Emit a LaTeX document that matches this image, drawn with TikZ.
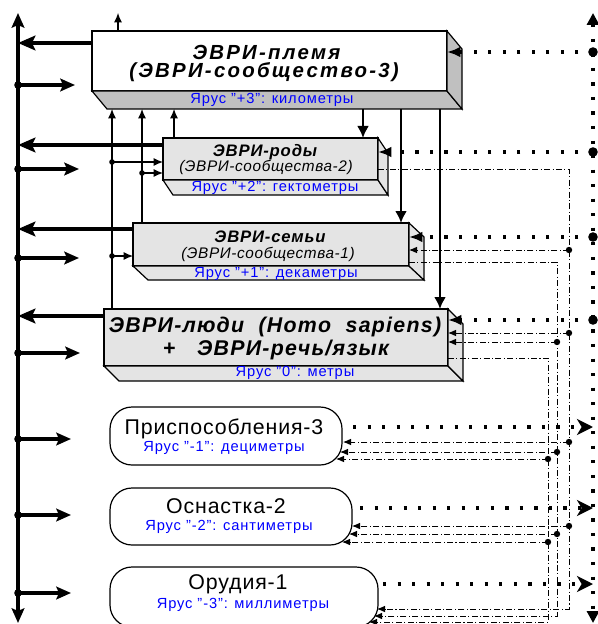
\documentclass[tikz,border=0pt]{standalone}
\usepackage{fontspec}
\setmainfont{Liberation Sans}
\usetikzlibrary{arrows.meta,calc}
\definecolor{sidegray}{RGB}{192,192,192}
\definecolor{facegray}{RGB}{228,228,228}
\newcommand\fTitleA{\fontsize{15.3pt}{17pt}\selectfont\bfseries\itshape\addfontfeature{LetterSpace=11}}
\newcommand\fTitleB{\fontsize{12.5pt}{14pt}\selectfont\bfseries\itshape\addfontfeature{LetterSpace=5}}
\newcommand\fSubT{\fontsize{11.5pt}{13pt}\selectfont\itshape\addfontfeature{LetterSpace=4}}
\newcommand\fTitleC{\fontsize{16pt}{18pt}\selectfont\bfseries\itshape\addfontfeature{LetterSpace=6}}
\newcommand\fMain{\fontsize{16pt}{18pt}\selectfont\addfontfeature{LetterSpace=4}}
\newcommand\fLbl{\fontsize{11pt}{13pt}\selectfont\addfontfeature{LetterSpace=6}}
\begin{document}
\begin{tikzpicture}[x=0.75pt,y=-0.75pt,
  face/.style={draw=black,line width=0.9pt,inner sep=0pt,outer sep=0pt},
  side/.style={draw=black,line width=0.9pt,line join=miter},
  rbox/.style={draw=black,line width=0.9pt,rounded corners=16.5pt,inner sep=0pt,outer sep=0pt,fill=white},
  lbl/.style={inner sep=0pt,text=blue,font=\fLbl},
  ttl/.style={inner sep=0pt},
  bigarrow/.style={line width=2.5pt,-{Stealth[length=13pt,width=11pt,inset=2.5pt]}},
  busout/.style={line width=2.5pt,-{Stealth[length=11pt,width=9.5pt,inset=2pt]}},
  thinarrow/.style={line width=0.8pt,-{Latex[length=7pt,width=6pt]}},
  downarrow/.style={line width=1.7pt,-{Latex[length=9pt,width=9pt]}},
  dotline/.style={line width=2.4pt,dash pattern=on 2.4pt off 8.5pt},
  ddline/.style={line width=0.7pt,dash pattern=on 4.5pt off 1.8pt on 0.8pt off 1.8pt},
  ddarrow/.style={ddline,-{Latex[length=6pt,width=5pt]}},
]
\useasboundingbox (0,0) rectangle (598,624);
\coordinate (LB) at (18,0);
\coordinate (RB) at (593,0);
\coordinate (VA) at (569,0);
\coordinate (VB) at (557,0);
\coordinate (VC) at (548,0);

% ---------- 3D boxes ----------
\node[face,fill=white,minimum width=266.25pt,minimum height=45pt] (tribe) at (269.5,61) {};
\filldraw[side,fill=sidegray] (tribe.south west) -- ++(15,18) -- ++(355,0) -- (tribe.south east) -- cycle;
\filldraw[side,fill=sidegray] (tribe.north east) -- ++(15,18) -- ++(0,60) -- (tribe.south east) -- cycle;
\coordinate (tribeBot) at ($(tribe.south)+(0,18)$);

\node[face,fill=facegray,minimum width=161.25pt,minimum height=31.5pt] (clan) at (270.5,159) {};
\filldraw[side,fill=facegray] (clan.south west) -- ++(10,15) -- ++(215,0) -- (clan.south east) -- cycle;
\filldraw[side,fill=facegray] (clan.north east) -- ++(10,15) -- ++(0,42) -- (clan.south east) -- cycle;

\node[face,fill=facegray,minimum width=207pt,minimum height=32.25pt] (fam) at (271,244.5) {};
\filldraw[side,fill=facegray] (fam.south west) -- ++(15,14) -- ++(276,0) -- (fam.south east) -- cycle;
\filldraw[side,fill=facegray] (fam.north east) -- ++(15,14) -- ++(0,43) -- (fam.south east) -- cycle;

\node[face,fill=facegray,minimum width=258pt,minimum height=42.75pt] (man) at (276,337.5) {};
\filldraw[side,fill=facegray] (man.south west) -- ++(15,15) -- ++(344,0) -- (man.south east) -- cycle;
\filldraw[side,fill=facegray] (man.north east) -- ++(15,15) -- ++(0,57) -- (man.south east) -- cycle;

% texts of 3D boxes
\node[ttl,font=\fTitleA] (tribeT1) at (266.5,52) {ЭВРИ-племя};
\node[ttl,font=\fTitleA] (tribeT2) at (264,72) {(ЭВРИ-сообщество-3)};
\node[lbl] (tribeL) at (272,100) {Ярус "+3": километры};

\node[ttl,font=\fTitleB] (clanT1) at (265,152.5) {ЭВРИ-роды};
\node[ttl,font=\fSubT] (clanT2) at (266,167.5) {(ЭВРИ-сообщества-2)};
\node[lbl] (clanL) at (275,188) {Ярус "+2": гектометры};

\node[ttl,font=\fTitleB] (famT1) at (270,237) {ЭВРИ-семьи};
\node[ttl,font=\fSubT] (famT2) at (268,254) {(ЭВРИ-сообщества-1)};
\node[lbl] (famL) at (276,273.5) {Ярус "+1": декаметры};

\node[ttl,font=\fTitleC] (manT1) at (275,327) {ЭВРИ-люди\ \ (Homo\ \ sapiens)};
\node[ttl,font=\fTitleC] (manT2) at (276,350) {+\ \ \ ЭВРИ-речь/язык};
\node[lbl] (manL) at (295,373) {Ярус "0": метры};

% ---------- rounded boxes ----------
\node[rbox,minimum width=174pt,minimum height=43.5pt] (adapt) at (226,436) {};
\node[ttl,font=\fMain] (adaptT) at (224,428.5) {Приспособления-3};
\node[lbl] (adaptL) at (224,447.5) {Ярус "-1": дециметры};

\node[rbox,minimum width=181.5pt,minimum height=42.75pt] (equip) at (231,516.5) {};
\node[ttl,font=\fMain] (equipT) at (226,506) {Оснастка-2};
\node[lbl] (equipL) at (229,527) {Ярус "-2": сантиметры};

\node[rbox,minimum width=201pt,minimum height=45pt] (tools) at (244,597) {};
\node[ttl,font=\fMain] (toolsT) at (238,584) {Орудия-1};
\node[lbl] (toolsL) at (243,605) {Ярус "-3": миллиметры};

% ---------- left bus ----------
\draw[line width=2.5pt,{Stealth[length=11pt,width=9.5pt,inset=2pt]}-{Stealth[length=11pt,width=9.5pt,inset=2pt]}] (LB |- 0,13) -- (LB |- 0,623);
\draw[bigarrow] (tribe.west |- 0,43) -- (LB |- 0,43);
\draw[bigarrow] (clan.west |- 0,145) -- (LB |- 0,145);
\draw[bigarrow] (fam.west |- 0,229) -- (LB |- 0,229);
\draw[bigarrow] (man.west |- 0,316) -- (LB |- 0,316);
\foreach \yy/\xx [count=\i] in {85/75,169/79,258/79,353/80,439/71,515/71,593/71}{
  \coordinate (out\i) at (\xx,\yy);
  \fill (LB |- out\i) circle (3.8);
  \draw[busout] (LB |- out\i) -- (out\i);
}

% ---------- thin arrows up into the tribe ----------
\coordinate (topA) at (118,13);
\draw[thinarrow] (tribe.north -| topA) -- (topA);
\draw[thinarrow] (man.north -| 112,0) -- (112,0 |- tribeBot);
\draw[thinarrow] (fam.north -| 142,0) -- (142,0 |- tribeBot);
\draw[thinarrow] (clan.north -| 174,0) -- (174,0 |- tribeBot);
\fill (112,162) circle (2.8);
\draw[thinarrow] (112,162) -- (clan.west |- 0,162);
\fill (142,173) circle (2.8);
\draw[thinarrow] (142,173) -- (clan.west |- 0,173);
\fill (112,256) circle (2.8);
\draw[thinarrow] (112,256) -- (fam.west |- 0,256);

% ---------- thick arrows down from the tribe ----------
\draw[downarrow] (363,0 |- tribeBot) -- (clan.north -| 363,0);
\draw[downarrow] (401,0 |- tribeBot) -- (fam.north -| 401,0);
\draw[downarrow] (440,0 |- tribeBot) -- (man.north -| 440,0);

% ---------- dash-dot network ----------
\draw[ddarrow] (clan.east |- 0,169) -- (VA |- 0,169) -- (VA |- 0,609) -- (377,609);
\draw[ddarrow] (fam.east |- 0,262) -- (VB |- 0,262) -- (VB |- 0,616) -- (374,616);
\draw[ddarrow] (man.east |- 0,358) -- (VC |- 0,358) -- (VC |- 0,622) -- (369,622);
\foreach \yy/\tx in {250/409,333/448,442/343,526/352}{
  \fill (VA |- 0,\yy) circle (3.2);
  \draw[ddarrow] (VA |- 0,\yy) -- (\tx,\yy);
}
\foreach \yy/\tx in {342/448,452/340,534/349}{
  \fill (VB |- 0,\yy) circle (3.2);
  \draw[ddarrow] (VB |- 0,\yy) -- (\tx,\yy);
}
\foreach \yy/\tx in {459/336,542/342}{
  \fill (VC |- 0,\yy) circle (3.2);
  \draw[ddarrow] (VC |- 0,\yy) -- (\tx,\yy);
}

% ---------- right dotted bus ----------
\draw[dotline,{Triangle[length=9pt,width=9pt]}-{Triangle[length=9pt,width=9pt]}] (RB |- 0,13) -- (RB |- 0,623);
\foreach \yy/\nd in {52/tribe,152/clan,237/fam,320/man}{
  \fill (RB |- 0,\yy) circle (4.8);
  \draw[dotline,-{Latex[length=10pt,width=8pt]}] (RB |- 0,\yy) -- (\nd.east |- 0,\yy);
}
\draw[dotline,-{Stealth[length=12pt,width=12pt,inset=3.5pt]}] ($(adapt.east |- 0,427)+(11,0)$) -- (RB |- 0,427);
\draw[dotline,-{Stealth[length=12pt,width=12pt,inset=3.5pt]}] ($(equip.east |- 0,508)+(8,0)$) -- (RB |- 0,508);
\draw[dotline,-{Stealth[length=12pt,width=12pt,inset=3.5pt]}] ($(tools.east |- 0,584)+(5,0)$) -- (RB |- 0,584);
\end{tikzpicture}
\end{document}
